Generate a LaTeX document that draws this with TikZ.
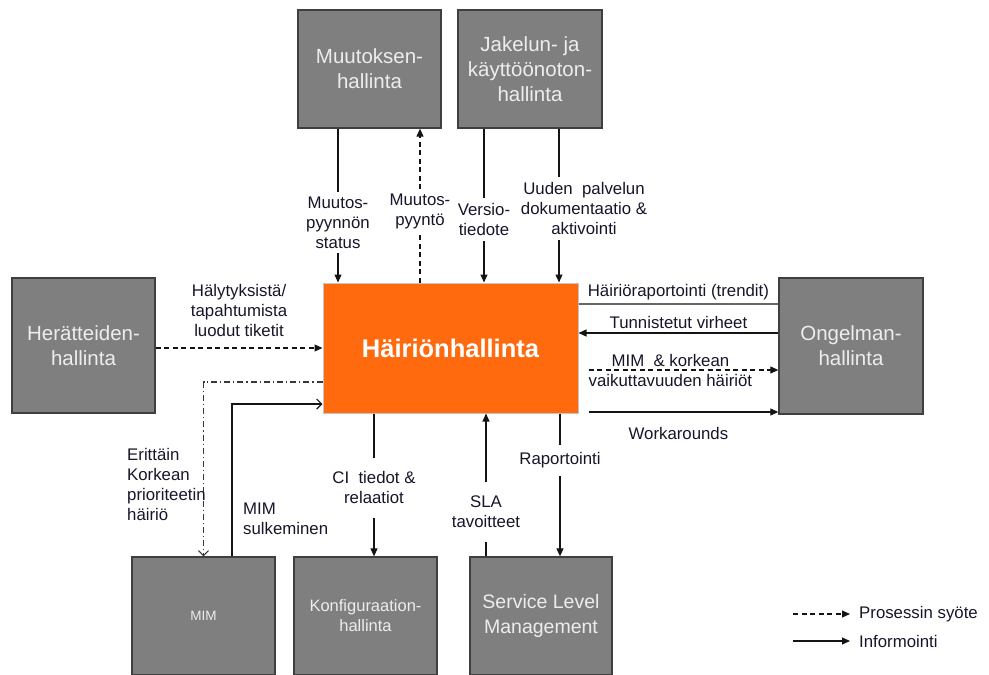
\documentclass[tikz,border=0pt]{standalone}
\usepackage{fontspec}
\setmainfont{Liberation Sans}
\usetikzlibrary{arrows.meta}
\definecolor{boxgray}{HTML}{7F7F7F}
\definecolor{boxedge}{HTML}{3F3F3F}
\definecolor{hhorange}{HTML}{FF6A0E}
\definecolor{hhedge}{HTML}{C4C4C4}
\definecolor{labelink}{HTML}{16162A}
\definecolor{lineink}{HTML}{141414}

\begin{document}
\begin{tikzpicture}[x=1pt,y=-1pt,
  procbox/.style={draw=boxedge, line width=1.3pt, fill=boxgray, text=white!93!black,
    minimum width=143pt, minimum height=118pt, align=center, inner sep=0pt,
    font=\fontsize{20.5}{25}\selectfont},
  hhbox/.style={draw=hhedge, line width=1pt, fill=hhorange, text=white,
    minimum width=255pt, minimum height=130pt, inner sep=0pt,
    font=\fontsize{25.5}{30}\selectfont\bfseries},
  lbl/.style={font=\fontsize{16.8}{20}\selectfont, text=labelink, align=center, inner sep=2pt},
  lblbg/.style={lbl, fill=white, inner ysep=5pt},
  info/.style={draw=lineink, line width=1.1pt, -{Triangle[length=8pt,width=7pt]}},
  feed/.style={info, dash pattern=on 5pt off 3.5pt},
  alert/.style={draw=black!78, line width=1.1pt, dash pattern=on 6pt off 3pt on 1.2pt off 3pt,
    -{Straight Barb[length=5pt,width=10pt]}},
  closing/.style={draw=lineink, line width=1.1pt, -{Straight Barb[length=5pt,width=10pt]}},
  trendline/.style={draw=black!60, line width=1.1pt}
]
\useasboundingbox (0,0) rectangle (989,675);

% process boxes
\node[procbox] (muut) at (369.5,69) {Muutoksen-\\hallinta};
\node[procbox, minimum width=144pt] (jak) at (530,69) {Jakelun- ja\\käyttöönoton-\\hallinta};
\node[procbox, minimum height=135pt] (her) at (83.5,345.5) {Herätteiden-\\hallinta};
\node[hhbox] (hh) at (450.5,348) {Häiriönhallinta};
\node[procbox, minimum width=144pt, minimum height=136pt] (ong) at (851,346) {Ongelman-\\hallinta};
\node[procbox, font=\fontsize{13.5}{16}\selectfont] (mim) at (203.5,616) {MIM};
\node[procbox, font=\fontsize{16.5}{20}\selectfont] (konf) at (365.5,616) {Konfiguraation-\\hallinta};
\node[procbox, font=\fontsize{19.5}{25}\selectfont, minimum width=142pt] (slm) at (541,616) {Service Level\\Management};

% x and y positions of the connector runs
\coordinate (xA) at (338,0);
\coordinate (xB) at (420,0);
\coordinate (xC) at (484,0);
\coordinate (xD) at (559,0);
\coordinate (xE) at (232,0);
\coordinate (xF) at (374,0);
\coordinate (xG) at (486,0);
\coordinate (xH) at (560,0);
\coordinate (yA) at (0,348);
\coordinate (yB) at (0,382);
\coordinate (yC) at (0,404);
\coordinate (yD) at (0,304);
\coordinate (yE) at (0,333);
\coordinate (yF) at (0,370);
\coordinate (yG) at (0,412);

% top connectors
\draw[info] (muut.south -| xA) -- node[lblbg, pos=0.61] (l1) {Muutos-\\pyynnön\\status} (hh.north -| xA);
\draw[feed] (hh.north -| xB) -- node[lblbg, pos=0.46] (l2) {Muutos-\\pyyntö} (muut.south -| xB);
\draw[info] (jak.south -| xC) -- node[lblbg, pos=0.59] (l3) {Versio-\\tiedote} (hh.north -| xC);
\draw[info] (jak.south -| xD) -- node[lblbg, pos=0.52, xshift=25pt] (l4) {Uuden\ \ palvelun\\dokumentaatio \&\\aktivointi} (hh.north -| xD);

% left connectors
\draw[feed] (her.east |- yA) -- node[lbl, midway, yshift=38pt] (l5) {Hälytyksistä/\\tapahtumista\\luodut tiketit} (hh.west |- yA);
\draw[alert] (hh.west |- yB) -| (mim.north);
\node[lbl, align=left, anchor=west] (l6) at (125,484) {Erittäin\\Korkean\\prioriteetin\\häiriö};
\draw[closing] (mim.north -| xE) |- (hh.west |- yC);
\node[lbl, align=left, anchor=west] (l7) at (241,519) {MIM\\sulkeminen};

% bottom connectors
\draw[info] (hh.south -| xF) -- node[lblbg, pos=0.52, inner ysep=14pt] (l8) {CI\ \ tiedot \&\\relaatiot} (konf.north -| xF);
\draw[info] (slm.north -| xG) -- node[lblbg, pos=0.31, inner ysep=14pt] (l9) {SLA\\tavoitteet} (hh.south -| xG);
\draw[info] (hh.south -| xH) -- node[lblbg, pos=0.33, inner ysep=8pt] (l10) {Raportointi} (slm.north -| xH);

% right connectors
\draw[trendline] (hh.east |- yD) -- node[lbl, midway, yshift=12pt] (l11) {Häiriöraportointi (trendit)} (ong.west |- yD);
\draw[info] (ong.west |- yE) -- node[lbl, midway, yshift=11pt] (l12) {Tunnistetut virheet} (hh.east |- yE);
\draw[feed, shorten <=10pt] (hh.east |- yF) -- node[lbl, midway, xshift=-8pt] (l13) {MIM\ \ \& korkean\\vaikuttavuuden häiriöt} (ong.west |- yF);
\draw[info, shorten <=10pt] (hh.east |- yG) -- node[lbl, midway, yshift=-21pt] (l14) {Workarounds} (ong.west |- yG);

% legend
\node[lbl, anchor=west] (lgf) at (857,614) {Prosessin syöte};
\node[lbl, anchor=west] (lgi) at (857,641) {Informointi};
\coordinate (lgfs) at (793,614);
\coordinate (lgis) at (793,641);
\draw[feed, shorten >=7pt] (lgfs) -- (lgf.west);
\draw[info, shorten >=7pt] (lgis) -- (lgi.west);
\end{tikzpicture}
\end{document}
